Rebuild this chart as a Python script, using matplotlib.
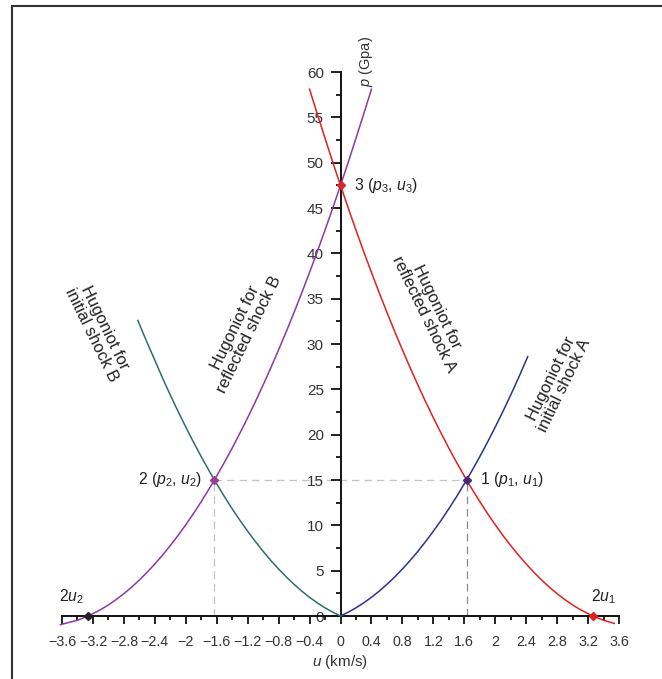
import matplotlib
matplotlib.use("Agg")
import matplotlib.pyplot as plt
from matplotlib.lines import Line2D

plt.rcParams['font.family'] = ['Liberation Sans', 'DejaVu Sans']
plt.rcParams['mathtext.fontset'] = 'custom'
plt.rcParams['mathtext.rm'] = 'Liberation Sans'
plt.rcParams['mathtext.it'] = 'Liberation Sans:italic'
plt.rcParams['axes.unicode_minus'] = True

# ---- data ----
# Hugoniot for initial shock A (blue)
u_init_A = [0, 0.1, 0.2, 0.3, 0.4, 0.5, 0.6, 0.7, 0.8, 0.9, 1.0, 1.1, 1.2, 1.3, 1.4, 1.5,
            1.63, 1.7, 1.8, 1.9, 2.0, 2.1, 2.2, 2.3, 2.42]
p_init_A = [0, 0.42, 0.90, 1.45, 2.06, 2.74, 3.49, 4.30, 5.18, 6.12, 7.13, 8.21, 9.35, 10.55,
            11.82, 13.16, 15.0, 16.04, 17.57, 19.17, 20.84, 22.57, 24.37, 26.24, 28.6]
# Hugoniot for initial shock B (teal)
u_init_B = [0, -0.1, -0.2, -0.3, -0.4, -0.5, -0.6, -0.7, -0.8, -0.9, -1.0, -1.1, -1.2, -1.3,
            -1.4, -1.5, -1.63, -1.7, -1.8, -1.9, -2.0, -2.1, -2.2, -2.3, -2.42, -2.5, -2.62]
p_init_B = [0, 0.42, 0.90, 1.45, 2.06, 2.74, 3.49, 4.30, 5.18, 6.12, 7.13, 8.21, 9.35, 10.55,
            11.82, 13.16, 15.0, 16.04, 17.57, 19.17, 20.84, 22.57, 24.37, 26.24, 28.6, 30.16, 32.6]
# Hugoniot for reflected shock A (red)
u_refl_A = [-0.4, -0.3, -0.2, -0.1, 0, 0.1, 0.2, 0.3, 0.4, 0.5, 0.6, 0.7, 0.8, 0.9, 1.0,
            1.1, 1.2, 1.3, 1.4, 1.5, 1.63, 1.7, 1.8, 1.9, 2.0, 2.1, 2.2, 2.3, 2.4, 2.5,
            2.6, 2.7, 2.8, 2.9, 3.0, 3.1, 3.26, 3.4, 3.54]
p_refl_A = [58.1, 55.37, 52.7, 50.04, 47.5, 44.99, 42.56, 40.19, 37.9, 35.66, 33.49, 31.39,
            29.36, 27.39, 25.48, 23.64, 21.87, 20.17, 18.52, 16.95, 15.0, 14.0, 12.62, 11.31,
            10.06, 8.88, 7.77, 6.72, 5.74, 4.82, 3.97, 3.18, 2.46, 1.81, 1.22, 0.70, 0.0,
            -0.47, -0.82]
# Hugoniot for reflected shock B (purple)
u_refl_B = [-3.62, -3.4, -3.26, -3.1, -3.0, -2.9, -2.8, -2.7, -2.6, -2.5, -2.4, -2.3, -2.2,
            -2.1, -2.0, -1.9, -1.8, -1.7, -1.63, -1.5, -1.4, -1.3, -1.2, -1.1, -1.0, -0.9,
            -0.8, -0.7, -0.6, -0.5, -0.4, -0.3, -0.2, -0.1, 0, 0.1, 0.2, 0.3, 0.4]
p_refl_B = [-0.95, -0.47, 0.0, 0.70, 1.22, 1.81, 2.46, 3.18, 3.97, 4.82, 5.74, 6.72, 7.77,
            8.88, 10.06, 11.31, 12.62, 14.0, 15.0, 16.95, 18.52, 20.17, 21.87, 23.64, 25.48,
            27.39, 29.36, 31.39, 33.49, 35.66, 37.9, 40.19, 42.56, 44.99, 47.5, 50.04, 52.7,
            55.37, 58.1]

# state points
pt_u = [1.63, -1.63, 0.0, -3.26, 3.26]
pt_p = [15.0, 15.0, 47.5, 0.0, 0.0]

x_ticks = [-3.6, -3.2, -2.8, -2.4, -2.0, -1.6, -1.2, -0.8, -0.4, 0, 0.4, 0.8, 1.2, 1.6,
           2.0, 2.4, 2.8, 3.2, 3.6]
x_ticklabels = ['\u22123.6', '\u22123.2', '\u22122.8', '\u22122.4', '\u22122', '\u22121.6',
                '\u22121.2', '\u22120.8', '\u22120.4', '0', '0.4', '0.8', '1.2', '1.6',
                '2', '2.4', '2.8', '3.2', '3.6']
y_ticks = [0, 5, 10, 15, 20, 25, 30, 35, 40, 45, 50, 55, 60]

# ---- figure ----
fig = plt.figure(figsize=(6.62, 6.79), dpi=100)
ax = fig.add_axes([62 / 662, 63 / 679, 557 / 662, 544 / 679])
ax.set_xlim(-3.6, 3.6)
ax.set_ylim(0, 60)

red = '#e0211f'
purple = '#8a3aa6'
teal = '#2f6f6a'
blue = '#2e3192'

# dashed guide lines
ax.plot([pt_u[1], pt_u[0]], [pt_p[0], pt_p[0]], ls=(0, (6, 4)), color='#c4c4c4', lw=0.9, zorder=1)
ax.plot([pt_u[0], pt_u[0]], [0, pt_p[0]], ls=(0, (6, 4)), color='#8a8a8a', lw=0.9, zorder=1)
ax.plot([pt_u[1], pt_u[1]], [0, pt_p[1]], ls=(0, (6, 4)), color='#c4c4c4', lw=0.9, zorder=1)

lw = 1.1
ax.plot(u_init_A, p_init_A, color=blue, lw=lw, clip_on=False, zorder=3)
ax.plot(u_init_B, p_init_B, color=teal, lw=lw, clip_on=False, zorder=3)
ax.plot(u_refl_A, p_refl_A, color=red, lw=lw, clip_on=False, zorder=3)
ax.plot(u_refl_B, p_refl_B, color=purple, lw=lw, clip_on=False, zorder=3)

pt_colors = ['#4a2a78', '#a03c96', '#d8262a', '#222222', '#e0211f']
for u, p, c in zip(pt_u, pt_p, pt_colors):
    ax.plot([u], [p], marker='D', ms=4.5, color=c, clip_on=False, zorder=5, ls='none')

# spines
for s in ['top', 'right']:
    ax.spines[s].set_visible(False)
ax.spines['left'].set_position(('data', 0))
ax.spines['bottom'].set_position(('data', 0))
ax.spines['left'].set_linewidth(1.4)
ax.spines['bottom'].set_linewidth(1.4)
ax.spines['left'].set_color('#111111')
ax.spines['bottom'].set_color('#111111')

ax.set_xticks(x_ticks)
ax.set_xticklabels(x_ticklabels)
ax.set_xticks([t + 0.2 for t in x_ticks[:-1]], minor=True)
ax.set_yticks(y_ticks)
ax.set_yticks([t + 2.5 for t in y_ticks[:-1]], minor=True)
ax.tick_params(axis='x', which='major', direction='out', length=5.5, width=1.3, pad=8.5,
               labelsize=10.3, labelcolor='#333333', color='#111111')
ax.tick_params(axis='x', which='minor', direction='out', length=3, width=1.3, color='#111111')
ax.tick_params(axis='y', which='major', direction='out', length=7, width=1.3, pad=5,
               labelsize=11, labelcolor='#333333', color='#111111')
ax.tick_params(axis='y', which='minor', direction='out', length=3.5, width=1.3, color='#111111')

# axis titles
ax.text(0.33, 58.3, '$p$ (Gpa)', rotation=90, ha='center', va='bottom', fontsize=10.5,
        color='#333333')
ax.text(0.0, -5.1, '$u$ (km/s)', ha='center', va='center', fontsize=11, color='#333333')

# point labels
tc = '#222222'
fs = 11.3
ax.text(0.17, 47.5, '3 ($p_3$, $u_3$)', ha='left', va='center', fontsize=fs, color=tc)
ax.text(1.8, 15.1, '1 ($p_1$, $u_1$)', ha='left', va='center', fontsize=fs, color=tc)
ax.text(-1.79, 15.1, '2 ($p_2$, $u_2$)', ha='right', va='center', fontsize=fs, color=tc)
ax.text(-3.48, 2.1, '2$u_2$', ha='center', va='center', fontsize=fs, color=tc)
ax.text(3.4, 2.1, '2$u_1$', ha='center', va='center', fontsize=fs, color=tc)

# curve labels
kw = dict(ha='center', va='center', fontsize=12, color=tc, rotation_mode='anchor',
          linespacing=1.0)
ax.text(-3.13, 31.4, 'Hugoniot for\ninitial shock B', rotation=-64, **kw)
ax.text(-1.27, 31.4, 'Hugoniot for\nreflected shock B', rotation=64, **kw)
ax.text(1.16, 33.7, 'Hugoniot for\nreflected shock A', rotation=-64, **kw)
ax.text(2.81, 25.8, 'Hugoniot for\ninitial shock A', rotation=64, **kw)

# frame lines (left and top)
fig.add_artist(Line2D([12 / 662, 12 / 662], [0, 1 - 6 / 679], color='#333333', lw=1.5))
fig.add_artist(Line2D([12 / 662, 1], [1 - 6 / 679, 1 - 6 / 679], color='#333333', lw=1.5))

fig.savefig('out.png', dpi=100)
